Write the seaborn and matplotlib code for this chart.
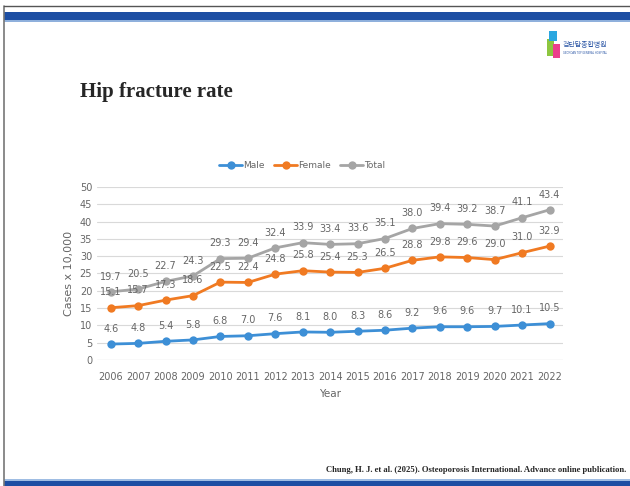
import pandas as pd
import matplotlib.pyplot as plt
import matplotlib.patches as mpatches
import seaborn as sns

# Data
years = list(range(2006, 2023))
male = [4.6, 4.8, 5.4, 5.8, 6.8, 7.0, 7.6, 8.1, 8.0, 8.3, 8.6, 9.2, 9.6, 9.6, 9.7, 10.1, 10.5]
female = [15.1, 15.7, 17.3, 18.6, 22.5, 22.4, 24.8, 25.8, 25.4, 25.3, 26.5, 28.8, 29.8, 29.6, 29.0, 31.0, 32.9]
total = [19.7, 20.5, 22.7, 24.3, 29.3, 29.4, 32.4, 33.9, 33.4, 33.6, 35.1, 38.0, 39.4, 39.2, 38.7, 41.1, 43.4]
series = ["Male", "Female", "Total"]
colors = {"Male": "#3d8fd6", "Female": "#f07a22", "Total": "#a5a5a5"}

df = pd.DataFrame({
    "Year": years * 3,
    "Rate": male + female + total,
    "Sex": ["Male"] * len(years) + ["Female"] * len(years) + ["Total"] * len(years),
})

sns.set_style("white")
fig = plt.figure(figsize=(6.3, 4.86), dpi=100)

# slide decoration: border lines and blue bands
fig.add_artist(plt.Line2D([0.006, 0.006], [0, 0.988], color="#777777", lw=1.2))
fig.add_artist(plt.Line2D([0.006, 1], [0.988, 0.988], color="#555555", lw=1.0))
fig.add_artist(mpatches.Rectangle((0.006, 0.958), 0.994, 0.018, color="#1d4ea3", lw=0))
fig.add_artist(mpatches.Rectangle((0.006, 0.955), 0.994, 0.004, color="#8fb0dc", lw=0))
fig.add_artist(mpatches.Rectangle((0.006, 0.0), 0.994, 0.010, color="#1d4ea3", lw=0))
fig.add_artist(mpatches.Rectangle((0.006, 0.010), 0.994, 0.004, color="#9fbde3", lw=0))

# logo
fig.add_artist(mpatches.Rectangle((0.868, 0.885), 0.011, 0.035, color="#8dc63f", lw=0))
fig.add_artist(mpatches.Rectangle((0.878, 0.880), 0.011, 0.030, color="#ec3f8c", lw=0))
fig.add_artist(mpatches.Rectangle((0.871, 0.915), 0.013, 0.022, color="#2aa7e0", lw=0))
fig.text(0.893, 0.908, "검단탑종합병원", fontsize=5, color="#2a55a5",
         family=["Noto Sans CJK KR", "DejaVu Sans"], va="center")
fig.text(0.893, 0.890, "GEOMDAN TOP GENERAL HOSPITAL", fontsize=1.8, color="#2a55a5", va="center")

# title and citation
fig.text(0.127, 0.811, "Hip fracture rate", fontsize=15, fontweight="bold",
         family="Liberation Serif", va="center")
fig.text(0.994, 0.033, "Chung, H. J. et al. (2025). Osteoporosis International. Advance online publication.",
         fontsize=6.2, fontweight="bold", family="Liberation Serif", ha="right", va="center")

ax = fig.add_axes([0.154, 0.2593, 0.740, 0.356])
sns.lineplot(data=df, x="Year", y="Rate", hue="Sex", hue_order=series, palette=colors,
             marker="o", markersize=6, markeredgewidth=0, linewidth=2, ax=ax)

for name, vals in zip(series, [male, female, total]):
    for yr, v in zip(years, vals):
        ax.annotate(f"{v:.1f}", (yr, v), xytext=(0, 11), textcoords="offset points",
                    ha="center", va="center", fontsize=7, color="#666666")

ax.set_xlim(2005.5, 2022.5)
ax.set_ylim(0, 50)
ax.set_yticks(range(0, 51, 5))
ax.set_xticks(years)
ax.yaxis.grid(True, color="#d9d9d9", lw=0.8)
ax.set_axisbelow(True)
for s in ax.spines.values():
    s.set_visible(False)
ax.axhline(0, color="#d0d0d0", lw=0.8)
ax.tick_params(axis="both", length=0, labelsize=7, labelcolor="#666666")
ax.tick_params(axis="x", pad=9)
ax.set_xlabel("Year", fontsize=7.5, color="#666666", labelpad=5)
ax.set_ylabel("Cases x 10,000", fontsize=8, color="#666666", labelpad=4)

handles, labels = ax.get_legend_handles_labels()
ax.legend(handles, labels, loc="lower center", bbox_to_anchor=(0.44, 1.05), ncol=3,
          frameon=False, fontsize=6.5, labelcolor="#666666", handlelength=2.6,
          handletextpad=0.1, columnspacing=1.0)

plt.savefig("out.png", dpi=100)
